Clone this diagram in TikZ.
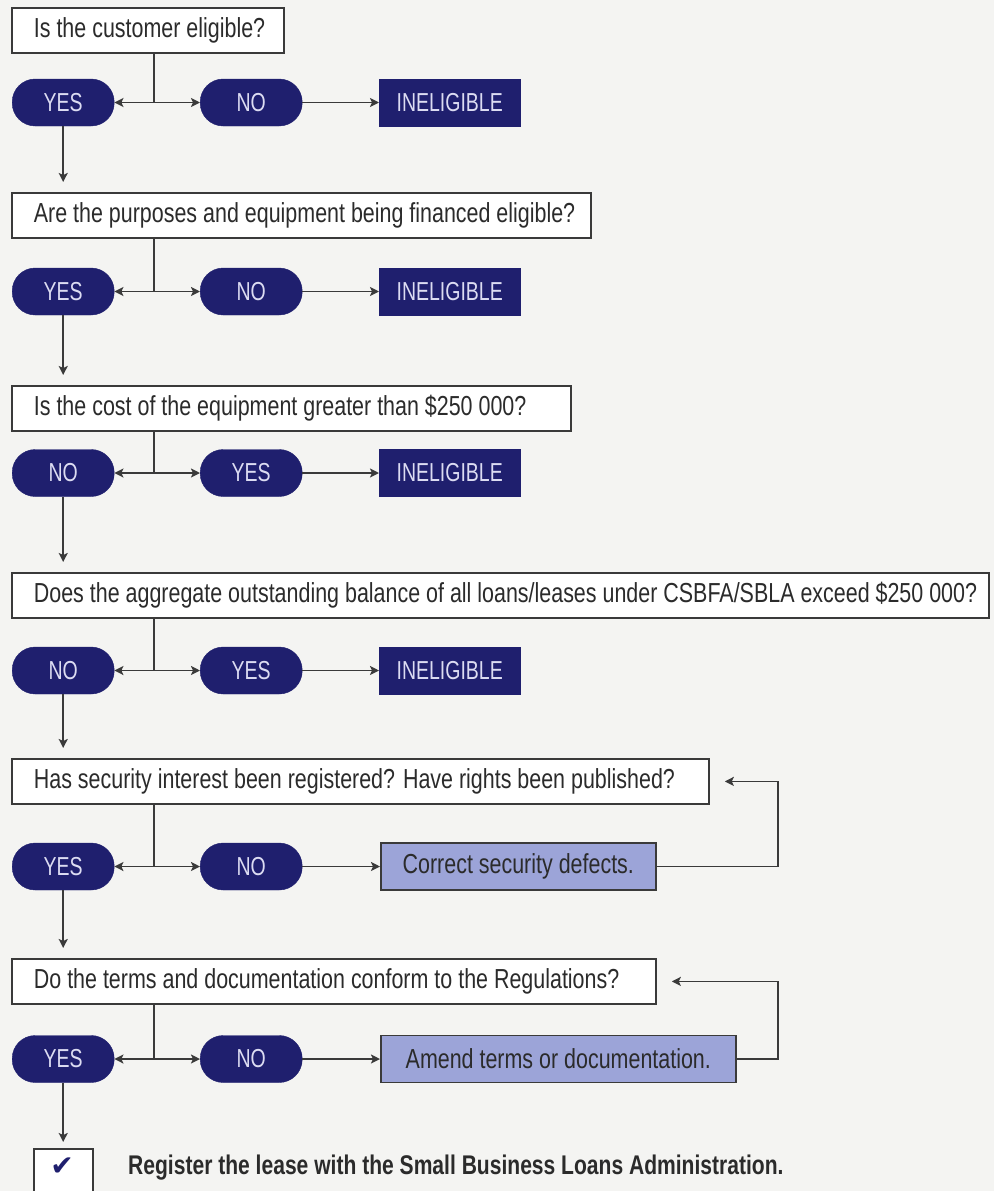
\documentclass[tikz,border=0pt]{standalone}
\usepackage{fontspec}
\setmainfont[FakeStretch=0.78]{Liberation Sans}
\newfontfamily\pillfont[FakeStretch=0.75]{Liberation Sans}
\newfontfamily\symfont{DejaVu Sans}
\usetikzlibrary{arrows.meta}

\definecolor{navy}{HTML}{1F1F6E}
\definecolor{pilltext}{HTML}{DCDCF2}
\definecolor{fixfill}{HTML}{9CA4D8}
\definecolor{ink}{HTML}{2B2B2B}
\definecolor{paper}{HTML}{F4F4F2}
\definecolor{edge}{HTML}{3A3A3A}

\newcommand{\qtext}[2]{\makebox[#1pt][l]{\hspace{22pt}\raisebox{-1.5pt}{#2}}}

\tikzset{
  txt/.style={font=\fontsize{27.5}{30}\selectfont},
  pilltxt/.style={font=\pillfont\fontsize{26}{28}\selectfont},
  question/.style={txt, draw=edge, line width=1.8pt, fill=white, anchor=north west,
    minimum height=45pt, text=ink, inner xsep=0pt, inner ysep=0pt},
  pill/.style={pilltxt, fill=navy, draw=navy, rounded corners=23pt, minimum width=102pt,
    minimum height=47pt, text=pilltext, anchor=west, inner sep=0pt},
  stopbox/.style={pilltxt, fill=navy, draw=navy, minimum width=141pt, minimum height=47pt,
    text=pilltext, anchor=west, inner sep=0pt},
  fixbox/.style={txt, fill=fixfill, draw=edge, line width=1.6pt, minimum height=47pt,
    text=ink, anchor=west, inner sep=0pt},
  link/.style={draw=edge, line width=1.8pt},
  flow/.style={link, -{Stealth[length=9pt,width=9pt,inset=2pt]}},
}

\begin{document}
\begin{tikzpicture}[x=1pt, y=-1pt]
\clip (0,0) rectangle (994,1191);
\fill[paper] (0,0) rectangle (994,1191);

% questions
\node[question] (q1) at (11,7)   {\qtext{272}{Is the customer eligible?}};
\node[question] (q2) at (11,192) {\qtext{579}{Are the purposes and equipment being financed eligible?}};
\node[question] (q3) at (11,385) {\qtext{559}{Is the cost of the equipment greater than \$250 000?}};
\node[question] (q4) at (11,572) {\qtext{977}{Does the aggregate outstanding balance of all loans/leases under CSBFA/SBLA exceed \$250 000?}};
\node[question] (q5) at (11,758) {\qtext{697}{Has security interest been registered? Have rights been published?}};
\node[question] (q6) at (11,958) {\qtext{644}{Do the terms and documentation conform to the Regulations?}};

% answers
\node[pill] (a1) at (12,102.5) {YES};
\node[pill] (b1) at (200,102.5) {NO};
\node[stopbox] (x1) at (379,102.5) {INELIGIBLE};

\node[pill] (a2) at (12,291.5) {YES};
\node[pill] (b2) at (200,291.5) {NO};
\node[stopbox] (x2) at (379,291.5) {INELIGIBLE};

\node[pill] (a3) at (12,473) {NO};
\node[pill] (b3) at (200,473) {YES};
\node[stopbox] (x3) at (379,473) {INELIGIBLE};

\node[pill] (a4) at (12,670.5) {NO};
\node[pill] (b4) at (200,670.5) {YES};
\node[stopbox] (x4) at (379,670.5) {INELIGIBLE};

\node[pill] (a5) at (12,866.5) {YES};
\node[pill] (b5) at (200,866.5) {NO};
\node[fixbox, minimum width=275pt] (x5) at (380,866.5) {Correct security defects.};

\node[pill] (a6) at (12,1059) {YES};
\node[pill] (b6) at (200,1059) {NO};
\node[fixbox, minimum width=355pt] (x6) at (380,1059) {Amend terms or documentation.};

% final step
\node[draw=edge, line width=1.8pt, fill=white, anchor=north west, minimum width=59pt,
  minimum height=70pt, inner sep=0pt] (ok) at (33,1148) {};
\node[text=navy, font=\symfont\fontsize{28}{28}\selectfont] (tick) at (62,1167) {✔};
\node[font=\bfseries\fontsize{27}{30}\selectfont, text=ink, anchor=west, inner sep=0pt]
  (reg) at (128,1168) {Register the lease with the Small Business Loans Administration.};

% branch points under each question
\foreach \i/\yy in {1/102.5, 2/291.5, 3/473, 4/670.5, 5/866.5, 6/1059} {
  \coordinate (s\i) at (154,\yy);
  \draw[link] (s\i |- q\i.south) -- (s\i);
  \draw[flow] (s\i) -- (a\i.east);
  \draw[flow] (s\i) -- (b\i.west);
  \draw[flow] (b\i.east) -- (x\i.west);
}

% continuing down the chart
\draw[flow, shorten >=10pt] (a1.south) -- (a1.south |- q2.north);
\draw[flow, shorten >=10pt] (a2.south) -- (a2.south |- q3.north);
\draw[flow, shorten >=10pt] (a3.south) -- (a3.south |- q4.north);
\draw[flow, shorten >=10pt] (a4.south) -- (a4.south |- q5.north);
\draw[flow, shorten >=10pt] (a5.south) -- (a5.south |- q6.north);
\draw[flow, shorten >=6pt] (a6.south) -- (a6.south |- ok.north);

% loops back after a correction
\coordinate (r) at (778,0);
\draw[flow, shorten >=15pt] (x5.east) -- (x5.east -| r) -- (r |- q5.east) -- (q5.east);
\draw[flow, shorten >=15pt] (x6.east) -- (x6.east -| r) -- (r |- q6.east) -- (q6.east);
\end{tikzpicture}
\end{document}
